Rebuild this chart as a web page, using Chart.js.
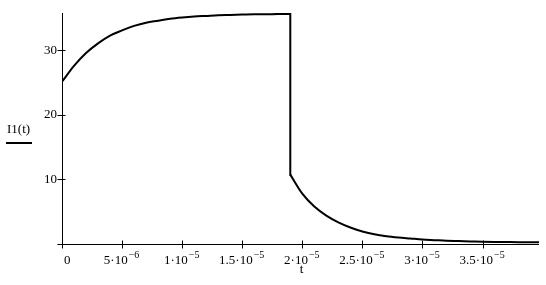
<!DOCTYPE html>
<html>
<head>
<meta charset="utf-8">
<script src="https://cdn.jsdelivr.net/npm/chart.js@4.4.0/dist/chart.umd.min.js"></script>
<style>
  body { margin: 0; background: #fff; }
  canvas { display: block; }
</style>
</head>
<body>
<canvas id="myChart" width="546" height="285"></canvas>
<script>
// time values in microseconds, current I1(t)
var riseT = [0, 1, 2, 3, 4, 5, 6, 7, 8, 9, 10, 11, 12, 13, 14, 15, 16, 17, 18, 19];
var riseI = [25.15, 27.6, 29.6, 31.1, 32.3, 33.1, 33.8, 34.3, 34.6, 34.9, 35.1, 35.25, 35.35, 35.45, 35.5, 35.55, 35.6, 35.6, 35.65, 35.65];

var fallT = [19, 20, 21, 22, 23, 24, 25, 26, 27, 28, 29, 30, 31, 32, 33, 34, 35, 36, 37, 38, 39, 39.7];
var fallI = [10.75, 7.8, 5.8, 4.4, 3.35, 2.55, 1.95, 1.5, 1.2, 1.0, 0.85, 0.7, 0.6, 0.5, 0.45, 0.4, 0.35, 0.32, 0.3, 0.28, 0.27, 0.26];

// axis ticks and labels
var xTicks = [0, 5e-6, 1e-5, 1.5e-5, 2e-5, 2.5e-5, 3e-5, 3.5e-5];
var xTickBase = ['0', '5\u00b710', '1\u00b710', '1.5\u00b710', '2\u00b710', '2.5\u00b710', '3\u00b710', '3.5\u00b710'];
var xTickExp = ['', '\u22126', '\u22125', '\u22125', '\u22125', '\u22125', '\u22125', '\u22125'];
var yTicks = [10, 20, 30];
var xLabel = 't';
var yLabel = 'I1(t)';

var US = 1e-6;
function pts(ts, vs) {
    return ts.map(function (t, i) { return { x: t * US, y: vs[i] }; });
}

Chart.defaults.font.family = '"Liberation Serif", "Times New Roman", serif';
Chart.defaults.color = '#000';

// mathcad-like axes: crossing ticks, exponent labels, underlined y label
var axesPlugin = {
    id: 'mathcadAxes',
    afterDraw: function (chart) {
        var ctx = chart.ctx, a = chart.chartArea;
        var xs = chart.scales.x, ys = chart.scales.y;
        var x0 = Math.round(xs.getPixelForValue(0)) + 0.5;
        var y0 = Math.round(ys.getPixelForValue(0)) + 0.5;
        ctx.save();
        ctx.strokeStyle = '#000';
        ctx.lineWidth = 1;
        ctx.beginPath();
        ctx.moveTo(x0, a.top);
        ctx.lineTo(x0, y0 + 4);
        ctx.moveTo(x0 - 5, y0);
        ctx.lineTo(a.right, y0);
        yTicks.forEach(function (v) {
            var y = Math.round(ys.getPixelForValue(v)) + 0.5;
            ctx.moveTo(x0 - 5, y);
            ctx.lineTo(x0 + 3, y);
        });
        xTicks.forEach(function (v) {
            if (v === 0) return;
            var x = Math.round(xs.getPixelForValue(v)) + 0.5;
            ctx.moveTo(x, y0 - 4);
            ctx.lineTo(x, y0 + 4);
        });
        ctx.stroke();

        // x tick labels with superscript exponents
        ctx.fillStyle = '#000';
        ctx.textBaseline = 'alphabetic';
        ctx.textAlign = 'left';
        var big = '13px "Liberation Serif", serif';
        var small = '10px "Liberation Serif", serif';
        xTicks.forEach(function (v, i) {
            var px = xs.getPixelForValue(v);
            ctx.font = big;
            var wb = ctx.measureText(xTickBase[i]).width;
            ctx.font = small;
            var we = ctx.measureText(xTickExp[i]).width;
            var sx = px - (wb + we) / 2 - 1;
            if (v === 0) sx = px + 2;
            ctx.font = big;
            ctx.fillText(xTickBase[i], sx, 264);
            ctx.font = small;
            ctx.fillText(xTickExp[i], sx + wb + 1, 258);
        });

        // axis titles
        ctx.font = big;
        ctx.textAlign = 'center';
        ctx.fillText(xLabel, (a.left + a.right) / 2 + 1, 273);
        ctx.textAlign = 'left';
        ctx.fillText(yLabel, 7, 133);
        ctx.fillRect(6, 142, 26, 2);
        ctx.restore();
    }
};

var lineStyle = {
    borderColor: '#000',
    borderWidth: 2,
    pointRadius: 0,
    fill: false,
    cubicInterpolationMode: 'monotone'
};

var ctx = document.getElementById('myChart');
var chart = new Chart(ctx, {
    type: 'line',
    data: {
        datasets: [
            Object.assign({ data: pts(riseT, riseI) }, lineStyle),
            Object.assign({}, lineStyle, {
                data: [pts(riseT, riseI)[riseT.length - 1], pts(fallT, fallI)[0]],
                cubicInterpolationMode: 'default',
                tension: 0,
                borderCapStyle: 'square'
            }),
            Object.assign({ data: pts(fallT, fallI) }, lineStyle)
        ]
    },
    options: {
        responsive: false,
        animation: false,
        devicePixelRatio: 1,
        layout: { padding: { top: 13, right: 7, left: 0, bottom: 0 } },
        plugins: {
            legend: { display: false },
            tooltip: { enabled: false }
        },
        scales: {
            x: {
                type: 'linear',
                min: 0,
                max: 3.97e-5,
                grid: { display: false, drawTicks: false },
                border: { display: false },
                ticks: { display: false },
                afterBuildTicks: function (s) { s.ticks = xTicks.map(function (v) { return { value: v }; }); },
                afterFit: function (s) { s.height = 41; }
            },
            y: {
                min: 0,
                max: 35.8,
                grid: { display: false, drawTicks: true, tickLength: 5 },
                border: { display: false },
                ticks: { padding: 0, color: '#000', font: { size: 13 } },
                afterBuildTicks: function (s) { s.ticks = yTicks.map(function (v) { return { value: v }; }); },
                afterFit: function (s) { s.width = 62; }
            }
        }
    },
    plugins: [axesPlugin]
});
</script>
</body>
</html>
